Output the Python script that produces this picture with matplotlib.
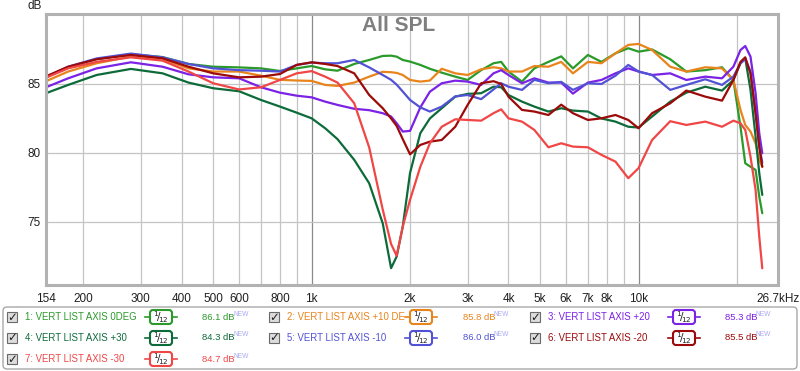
import matplotlib
matplotlib.use('Agg')
import matplotlib.pyplot as plt
from matplotlib.patches import FancyBboxPatch, Rectangle
from matplotlib.ticker import NullLocator

plt.rcParams['font.family'] = ['Liberation Sans', 'DejaVu Sans']

# frequency points (Hz)
freq = [154, 180, 220, 280, 350, 420, 500, 600, 700, 800,
        900, 1000, 1100, 1200, 1350, 1500, 1650, 1750, 1820, 1900,
        2000, 2150, 2300, 2500, 2750, 3000, 3300, 3600, 3800, 4000,
        4400, 4800, 5300, 5800, 6300, 7000, 7700, 8500, 9300, 10000,
        11000, 12500, 14000, 16000, 18000, 19500, 20500, 21200, 22000, 22800,
        23400, 23900]

spl_0deg = [85.5, 86.2, 86.8, 87.15, 86.95, 86.45, 86.25, 86.2, 86.13, 85.94,
            86.13, 86.3, 86.06, 85.96, 86.45, 86.74, 87.03, 87.05, 86.98, 86.74,
            86.62, 86.38, 86.1, 85.82, 85.53, 85.29, 86.0, 86.5, 86.6, 85.9,
            85.17, 86.13, 86.6, 87.0, 86.13, 87.1, 86.6, 87.22, 87.59, 87.34,
            87.5, 86.79, 85.9, 86.0, 86.21, 85.29, 81.9, 79.25, 79.0, 78.77,
            76.83, 75.63]
spl_p10 = [85.2, 85.9, 86.5, 86.98, 86.79, 86.13, 85.9, 85.9, 85.6, 85.3,
           85.25, 85.22, 84.93, 84.86, 85.1, 85.53, 85.88, 85.85, 85.8, 85.65,
           85.29, 85.17, 85.25, 86.1, 85.77, 85.65, 86.06, 86.21, 86.13, 85.9,
           85.9, 86.3, 86.25, 86.6, 85.77, 86.6, 86.5, 87.22, 87.83, 87.9,
           87.46, 86.25, 85.9, 86.21, 86.13, 85.29, 83.12, 82.03, 81.55, 80.7,
           79.5, 79.0]
spl_p20 = [84.76, 85.41, 86.13, 86.57, 86.25, 85.7, 85.48, 85.41, 84.76, 84.37,
           84.15, 84.03, 83.72, 83.48, 83.2, 83.1, 82.88, 82.64, 82.15, 81.55,
           81.6, 83.3, 84.44, 85.05, 85.24, 85.17, 84.93, 85.77, 86.0, 85.65,
           85.05, 85.41, 85.1, 85.1, 84.3, 85.1, 85.29, 85.77, 86.13, 85.9,
           85.65, 85.77, 85.29, 85.53, 85.41, 86.25, 87.46, 87.75, 86.98, 84.33,
           81.43, 79.98]
spl_p30 = [84.33, 84.93, 85.65, 86.09, 85.77, 85.1, 84.69, 84.47, 83.84, 83.36,
           82.92, 82.51, 81.79, 81.0, 79.5, 77.8, 74.9, 71.65, 72.49, 74.66,
           78.55, 81.43, 82.5, 83.24, 84.08, 84.28, 84.33, 84.8, 84.76, 84.2,
           83.72, 83.36, 83.0, 83.24, 83.07, 83.0, 82.5, 82.27, 81.9, 81.84,
           82.64, 83.72, 84.37, 84.8, 84.52, 85.29, 86.5, 86.86, 84.57, 81.18,
           78.53, 76.96]
spl_m10 = [85.5, 86.25, 86.85, 87.2, 86.93, 86.45, 86.13, 86.0, 85.96, 85.9,
           86.38, 86.55, 86.5, 86.5, 86.74, 86.2, 85.65, 85.3, 84.95, 84.45,
           83.84, 83.3, 83.0, 83.36, 84.1, 84.2, 83.9, 84.6, 85.05, 84.8,
           84.57, 85.3, 85.05, 85.15, 84.57, 85.05, 85.0, 85.6, 86.38, 85.9,
           85.65, 84.57, 84.93, 85.34, 84.93, 85.53, 86.5, 86.79, 85.9, 82.9,
           80.5, 79.3]
spl_m20 = [85.55, 86.25, 86.79, 87.1, 86.86, 86.25, 85.77, 85.48, 85.53, 85.72,
           86.38, 86.57, 86.45, 86.3, 85.77, 84.2, 83.24, 82.5, 81.96, 81.0,
           79.9, 80.58, 80.82, 80.94, 81.9, 83.48, 85.05, 85.2, 85.0, 84.08,
           83.12, 83.0, 82.75, 83.5, 82.88, 82.39, 82.51, 82.75, 82.39, 81.79,
           82.88, 83.6, 84.52, 84.08, 83.79, 85.29, 86.6, 86.93, 85.77, 82.88,
           80.46, 79.0]
spl_m30 = [85.45, 86.13, 86.6, 86.93, 86.69, 85.9, 85.05, 84.6, 84.76, 85.29,
           85.77, 85.93, 85.53, 85.1, 83.6, 80.4, 75.9, 73.4, 72.55, 74.66,
           76.6, 79.0, 80.7, 81.9, 82.44, 82.39, 82.34, 82.88, 83.16, 82.51,
           82.27, 81.67, 80.41, 80.7, 80.46, 80.41, 79.86, 79.37, 78.17, 78.9,
           80.94, 82.3, 82.03, 82.27, 81.9, 82.34, 82.15, 81.67, 79.73, 77.32,
           73.93, 71.64]

names = ['1: VERT LIST AXIS 0DEG', '2: VERT LIST AXIS +10 DE', '3: VERT LIST AXIS +20',
         '4: VERT LIST AXIS +30', '5: VERT LIST AXIS -10', '6: VERT LIST AXIS -20',
         '7: VERT LIST AXIS -30']
levels = ['86.1', '85.8', '85.3', '84.3', '86.0', '85.5', '84.7']
colors = ['#2a9a2a', '#e8841c', '#7b22e6', '#0d6b3a', '#5252d6', '#9c0a0a', '#f04646']
series = [spl_0deg, spl_p10, spl_p20, spl_p30, spl_m10, spl_m20, spl_m30]

tick_freqs = [154, 200, 300, 400, 500, 600, 800, 1000, 2000, 3000, 4000,
              5000, 6000, 7000, 8000, 10000, 26700]
tick_labels = ['154', '200', '300', '400', '500', '600', '800', '1k', '2k', '3k',
               '4k', '5k', '6k', '7k', '8k', '10k', '26.7kHz']
grid_freqs = [200, 300, 400, 500, 600, 700, 800, 900, 2000, 3000, 4000,
              5000, 6000, 7000, 8000, 9000, 20000]
decade_freqs = [1000, 10000]
db_ticks = [75, 80, 85]

W, H = 800, 371
fig = plt.figure(figsize=(W / 100, H / 100), dpi=100)
ax = fig.add_axes([46 / W, 1 - 285 / H, (778 - 46) / W, (285 - 14) / H])
ax.set_xscale('log')
ax.set_xlim(154, 26700)
ax.set_ylim(70.43, 90.07)

for f in grid_freqs:
    ax.axvline(f, color='#c4c4c4', lw=0.9, zorder=0)
for f in decade_freqs:
    ax.axvline(f, color='#8a8a8a', lw=0.9, zorder=0)
for d in db_ticks:
    ax.axhline(d, color='#c4c4c4', lw=0.9, zorder=0)

for vals, c in zip(series, colors):
    ax.plot(freq, vals, color=c, lw=1.6, solid_joinstyle='round', solid_capstyle='round')

ax.xaxis.set_minor_locator(NullLocator())
ax.set_xticks(tick_freqs)
ax.set_xticklabels(tick_labels)
ax.set_yticks(db_ticks)
ax.set_yticklabels([str(d) for d in db_ticks])
ax.tick_params(axis='x', length=0, pad=6, labelsize=8.5, colors='#202020')
ax.tick_params(axis='y', length=0, pad=4, labelsize=8.5, colors='#202020')
for s in ax.spines.values():
    s.set_color('#b2b2b2')
    s.set_linewidth(2.2)

ax.text(0.482, 0.959, 'All SPL', transform=ax.transAxes, ha='center', va='center',
        fontsize=15, fontweight='bold', color='#7f7f7f')
fig.text(35 / W, 1 - 6 / H, 'dB', ha='center', va='center', fontsize=8.5, color='#202020')

# legend panel drawn in pixel coordinates
lg = fig.add_axes([0, 0, 1, 1])
lg.set_xlim(0, W)
lg.set_ylim(H, 0)
lg.axis('off')
lg.add_patch(FancyBboxPatch((3, 307), 794, 62, boxstyle='round,pad=0,rounding_size=4',
                            fc='white', ec='#a8a8a8', lw=1))

cols = [(12, 25, 161, 202), (274, 287, 421, 463), (535, 548, 684, 725)]
rows = [317, 338, 359]
for i, (name, lvl, c) in enumerate(zip(names, levels, colors)):
    cb, tx, ic, vx = cols[i % 3]
    y = rows[i // 3]
    lg.add_patch(Rectangle((cb - 5, y - 5), 10, 10, fc='#dcdcdc', ec='#6a6a6a', lw=0.8))
    lg.text(cb + 0.5, y, '\u2713', ha='center', va='center', fontsize=8.5,
            fontweight='bold', color='#202020', family='DejaVu Sans')
    t = lg.text(tx, y, name, ha='left', va='center', fontsize=6.9, color=c)
    # names are cut off where the filter icon starts
    t.set_clip_path(Rectangle((0, 0), ic - 18, H, transform=lg.transData))
    lg.plot([ic - 16, ic + 16], [y, y], color=c, lw=1.2)
    lg.add_patch(FancyBboxPatch((ic - 11, y - 7), 22, 14, boxstyle='round,pad=0,rounding_size=3',
                                fc='white', ec=c, lw=1.5, zorder=3))
    lg.text(ic, y + 0.5, r'$^{1}\!/\!_{12}$', ha='center', va='center', fontsize=7.5,
            color='#202020', zorder=4)
    lg.text(vx, y, lvl + ' dB', ha='left', va='center', fontsize=6.8, color=c)
    lg.text(vx + 31, y - 3, 'NEW', ha='left', va='center', fontsize=4.8, color='#a8a8f4')

fig.savefig('out.png', dpi=100, facecolor='white')
